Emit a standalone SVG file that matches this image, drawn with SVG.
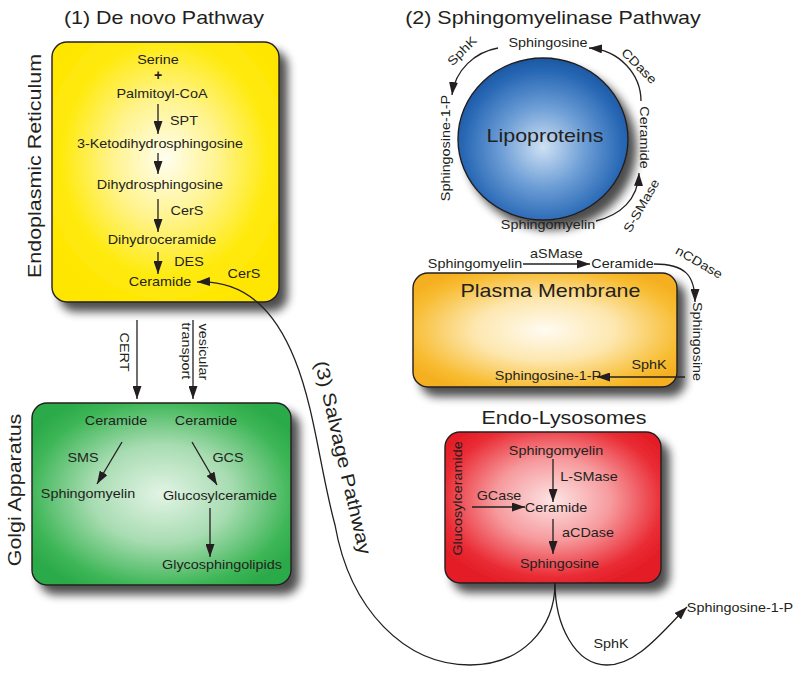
<svg xmlns="http://www.w3.org/2000/svg" width="800" height="674" viewBox="0 0 800 674">
<style>
text { font-family: "Liberation Sans", Arial, Helvetica, sans-serif; fill: #231f20; text-anchor: middle; transform-box: fill-box; transform-origin: center; }
.s { font-size: 12.5px; transform: scaleX(1.15); }
.b { font-size: 18.5px; transform: scaleX(1.16); }
.box { stroke: #231f20; stroke-width: 1.4; }
.ln { fill: none; stroke: #231f20; stroke-width: 1.3; marker-end: url(#ah); }
</style>
<defs>
<marker id="ah" markerUnits="userSpaceOnUse" markerWidth="14" markerHeight="9" refX="13" refY="4.5" orient="auto">
<path d="M0,0 L13,4.5 L0,9 Z" fill="#231f20"/>
</marker>
<filter id="sh" x="-20%" y="-20%" width="150%" height="150%">
<feGaussianBlur in="SourceAlpha" stdDeviation="5"/>
<feOffset dx="8" dy="9"/>
<feComponentTransfer><feFuncA type="linear" slope="0.7"/></feComponentTransfer>
<feMerge><feMergeNode/><feMergeNode in="SourceGraphic"/></feMerge>
</filter>
<radialGradient id="gY" cx="0.5" cy="0.45" r="0.6">
<stop offset="0" stop-color="#fffef0"/><stop offset="0.4" stop-color="#fff38a"/><stop offset="0.75" stop-color="#ffea10"/><stop offset="1" stop-color="#ffe600"/>
</radialGradient>
<radialGradient id="gG" cx="0.5" cy="0.5" r="0.6">
<stop offset="0" stop-color="#e2f4e5"/><stop offset="0.45" stop-color="#a8dcb2"/><stop offset="0.85" stop-color="#3db656"/><stop offset="1" stop-color="#2caa4a"/>
</radialGradient>
<radialGradient id="gO" cx="0.5" cy="0.5" r="0.6">
<stop offset="0" stop-color="#fffbf2"/><stop offset="0.45" stop-color="#fde7ae"/><stop offset="0.85" stop-color="#f8bd34"/><stop offset="1" stop-color="#f5b020"/>
</radialGradient>
<radialGradient id="gR" cx="0.5" cy="0.45" r="0.6">
<stop offset="0" stop-color="#fde4e4"/><stop offset="0.45" stop-color="#f69a9d"/><stop offset="0.85" stop-color="#ea2c35"/><stop offset="1" stop-color="#e31e27"/>
</radialGradient>
<radialGradient id="gB" cx="0.5" cy="0.55" r="0.55">
<stop offset="0" stop-color="#cfe1f3"/><stop offset="0.45" stop-color="#6d9ed6"/><stop offset="0.85" stop-color="#2868b5"/><stop offset="1" stop-color="#1c58a2"/>
</radialGradient>
</defs>

<rect width="800" height="674" fill="#ffffff"/>

<g id="titles">
<text class="b" x="164" y="24">(1) De novo Pathway</text>
<text class="b" x="553" y="24">(2) Sphingomyelinase Pathway</text>
<g transform="translate(41,166) rotate(-90)"><text class="b" x="0" y="0">Endoplasmic Reticulum</text></g>
<g transform="translate(21,490) rotate(-90)"><text class="b" x="0" y="0">Golgi Apparatus</text></g>
</g>

<g id="er">
<rect class="box" x="52" y="42" width="227" height="260" rx="15" fill="url(#gY)" filter="url(#sh)"/>
<text class="s" x="158" y="64">Serine</text>
<text x="158" y="80" style="font-size:14px;font-weight:bold">+</text>
<text class="s" x="162" y="98">Palmitoyl-CoA</text>
<text class="s" x="160" y="148">3-Ketodihydrosphingosine</text>
<text class="s" x="160" y="189">Dihydrosphingosine</text>
<text class="s" x="162" y="244">Dihydroceramide</text>
<text class="s" x="160" y="286">Ceramide</text>
</g>

<g id="golgi">
<rect class="box" x="32" y="403" width="259" height="182" rx="15" fill="url(#gG)" filter="url(#sh)"/>
<text class="s" x="116" y="425">Ceramide</text>
<text class="s" x="206" y="425">Ceramide</text>
<text class="s" x="88" y="498">Sphingomyelin</text>
<text class="s" x="220" y="500">Glucosylceramide</text>
<text class="s" x="222" y="569">Glycosphingolipids</text>
</g>

<g id="lipoproteins">
<ellipse class="box" cx="543" cy="139" rx="85" ry="81" fill="url(#gB)" filter="url(#sh)"/>
<text class="b" x="545" y="142">Lipoproteins</text>
<text class="s" x="548" y="47.5">Sphingosine</text>
<text class="s" x="548" y="229">Sphingomyelin</text>
<g transform="translate(450,148) rotate(-90)"><text class="s" x="0" y="0">Sphingosine-1-P</text></g>
<g transform="translate(640,137.5) rotate(90)"><text class="s" x="0" y="0">Ceramide</text></g>
</g>

<g id="plasma">
<rect class="box" x="413" y="273" width="264" height="114" rx="15" fill="url(#gO)" filter="url(#sh)"/>
<text class="b" x="550.5" y="297">Plasma Membrane</text>
<text class="s" x="475" y="268">Sphingomyelin</text>
<text class="s" x="622.5" y="268">Ceramide</text>
<g transform="translate(692.5,341.5) rotate(90)"><text class="s" x="0" y="0">Sphingosine</text></g>
<text class="s" x="548" y="380">Sphingosine-1-P</text>
</g>

<g id="lysosome">
<text class="b" x="564" y="424">Endo-Lysosomes</text>
<rect class="box" x="445" y="432" width="216" height="151" rx="15" fill="url(#gR)" filter="url(#sh)"/>
<text class="s" x="556" y="455">Sphingomyelin</text>
<text class="s" x="556" y="512">Ceramide</text>
<text class="s" x="559.5" y="568">Sphingosine</text>
<g transform="translate(462,498.5) rotate(-90)"><text class="s" x="0" y="0">Glucosylceramide</text></g>
</g>

<g id="s1p-out">
<text class="s" x="740" y="612">Sphingosine-1-P</text>
</g>

<g id="connectors">
<path class="ln" d="M158,104 L158,134"/>
<path class="ln" d="M158,153 L158,174"/>
<path class="ln" d="M158,199 L158,232"/>
<path class="ln" d="M158,252 L158,274"/>
<path class="ln" d="M137,320 L137,399"/>
<path class="ln" d="M193,320 L193,399"/>
<path class="ln" d="M122,442 L97,484"/>
<path class="ln" d="M192,442 L217,485"/>
<path class="ln" d="M210,508 L210,557"/>
<path class="ln" d="M641,101 C641,75 620,50 589,48"/>
<path class="ln" d="M498,48 C475,52 455,70 452,95"/>
<path class="ln" d="M596,221 C620,215 638,200 639,173"/>
<path class="ln" d="M523,264 L590,264"/>
<path class="ln" d="M654,264 C685,264 695,275 695,302"/>
<path class="ln" d="M685,377 L597,377"/>
<path class="ln" d="M553,459 L553,502"/>
<path class="ln" d="M472,507 L525,507"/>
<path class="ln" d="M553,519 L553,554"/>
<path class="ln" d="M555,583 C555,630 520,665 470,665 C405,665 350,610 335,525 C320,470 315,410 295,360 C275,310 245,280 197,282"/>
<path class="ln" d="M555,583 C555,625 575,665 607,665 C637,665 662,632 687,607"/>
<text class="s" x="184" y="125">SPT</text>
<text class="s" x="187" y="215">CerS</text>
<text class="s" x="189" y="266">DES</text>
<text class="s" x="244" y="278">CerS</text>
<g transform="translate(120,352) rotate(90)"><text class="s" x="0" y="0">CERT</text></g>
<g transform="translate(198.5,352) rotate(90)"><text class="s" x="0" y="0">vesicular</text></g>
<g transform="translate(182,351) rotate(90)"><text class="s" x="0" y="0">transport</text></g>
<text class="s" x="83" y="462">SMS</text>
<text class="s" x="228" y="462">GCS</text>
<g transform="translate(465,54) rotate(-45)"><text class="s" x="0" y="0">SphK</text></g>
<g transform="translate(636,69) rotate(45)"><text class="s" x="0" y="0">CDase</text></g>
<g transform="translate(645,208) rotate(-60)"><text class="s" x="0" y="0">S-SMase</text></g>
<text class="s" x="556.5" y="258">aSMase</text>
<g transform="translate(697,266) rotate(30)"><text class="s" x="0" y="0">nCDase</text></g>
<text class="s" x="649" y="369">SphK</text>
<text class="s" x="589" y="481">L-SMase</text>
<text class="s" x="499" y="500">GCase</text>
<text class="s" x="588" y="537">aCDase</text>
<text class="s" x="611" y="648">SphK</text>
<g transform="translate(337,459) rotate(77)"><text class="b" x="0" y="0">(3) Salvage Pathway</text></g>
</g>
</svg>
